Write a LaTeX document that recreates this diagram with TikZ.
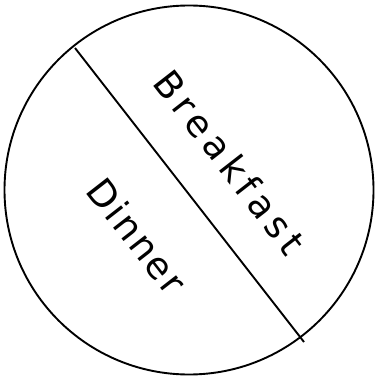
\documentclass[tikz,border=0pt]{standalone}
\usepackage{fontspec}
\setmainfont{DejaVu Sans}
\begin{document}
\begin{tikzpicture}[x=1pt,y=-1pt,
  lbl/.style={font=\fontsize{37}{44}\selectfont, inner sep=0pt, rotate=-52.1},
  rim/.style={line width=1.9pt}]
\useasboundingbox (0,0) rectangle (374,379);
\node[circle, draw, rim, minimum size=369pt, inner sep=0pt] (plate) at (189,190) {};
\coordinate (a) at (75,48);
\coordinate (b) at (304,342);
\draw[rim] (a) -- (b);
\node[lbl] (bf) at (230,162) {\addfontfeature{LetterSpace=15}Breakfast};
\node[lbl] (dn) at (137,236) {\addfontfeature{LetterSpace=6}Dinner};
\end{tikzpicture}
\end{document}
